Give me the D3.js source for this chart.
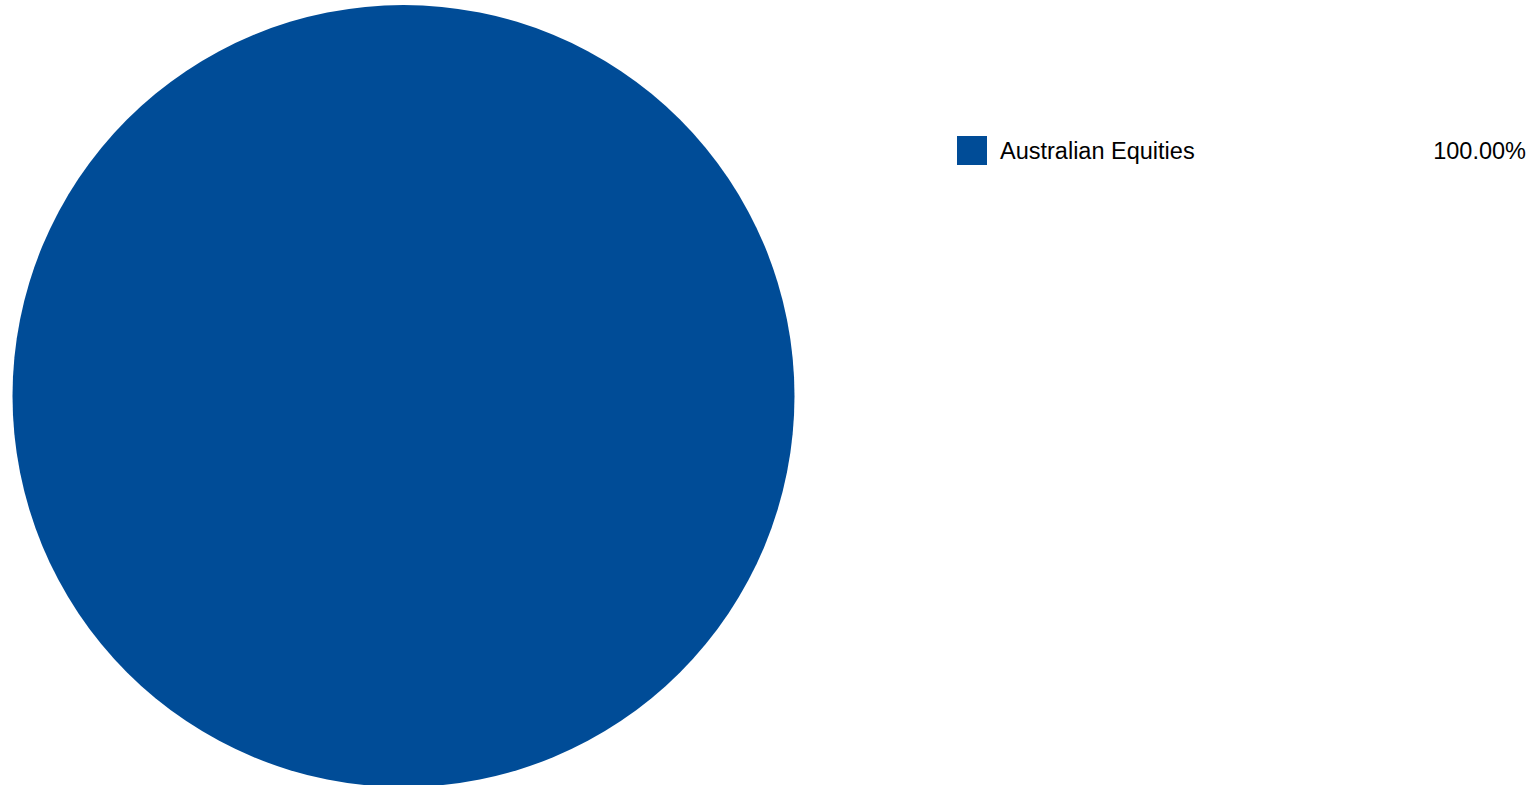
<!DOCTYPE html>
<html>
<head>
    <meta charset="utf-8">
    <title>Asset allocation</title>
    <script src="https://d3js.org/d3.v7.min.js"></script>
    <style>
        body { margin: 0; background: #fff; }
        svg text { font-family: "Liberation Sans", Arial, sans-serif; fill: #000; }
    </style>
</head>
<body>
<script>
    // chart data
    const categories = ["Australian Equities"];
    const values = [100.00];
    const colours = ["#004c97"];

    const W = 1531, H = 785;
    const cx = 403.5, cy = 396, radius = 391;

    const svg = d3.select("body").append("svg")
        .attr("width", W)
        .attr("height", H);

    const rows = categories.map((c, i) => ({ name: c, value: values[i], colour: colours[i] }));

    // pie
    const pie = d3.pie().value(d => d.value).sort(null);
    const arc = d3.arc().innerRadius(0).outerRadius(radius);

    svg.append("g")
        .attr("transform", `translate(${cx},${cy})`)
        .selectAll("path")
        .data(pie(rows))
        .join("path")
        .attr("d", arc)
        .attr("fill", d => d.data.colour);

    // legend
    const legend = svg.append("g").attr("transform", "translate(957,136)");
    const item = legend.selectAll("g")
        .data(rows)
        .join("g")
        .attr("transform", (d, i) => `translate(0,${i * 40})`);

    item.append("rect")
        .attr("width", 30)
        .attr("height", 29)
        .attr("fill", d => d.colour);

    item.append("text")
        .attr("x", 43)
        .attr("y", 23)
        .style("font-size", "23.5px")
        .text(d => d.name);

    item.append("text")
        .attr("x", 1526 - 957)
        .attr("y", 23)
        .attr("text-anchor", "end")
        .style("font-size", "23.5px")
        .text(d => d3.format(".2f")(d.value) + "%");
</script>
</body>
</html>
